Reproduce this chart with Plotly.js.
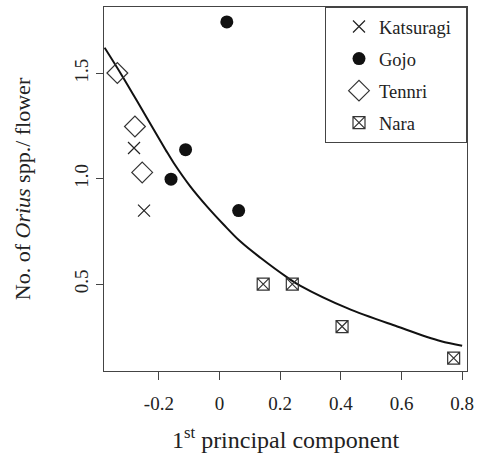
<!DOCTYPE html>
<html>
<head>
<meta charset="utf-8">
<script src="https://cdn.plot.ly/plotly-3.0.1.min.js"></script>
<style>html,body{margin:0;padding:0;background:#fff;}#chart{width:478px;height:458px;}</style>
</head>
<body>
<div id="chart"></div>
<script>
// Data
const katsuragiX = [-0.282, -0.249];
const katsuragiY = [1.146, 0.849];
const gojoX = [0.024, -0.112, -0.160, 0.063];
const gojoY = [1.744, 1.138, 0.998, 0.849];
const tennriX = [-0.337, -0.279, -0.255];
const tennriY = [1.502, 1.248, 1.030];
const naraX = [0.144, 0.240, 0.404, 0.772];
const naraY = [0.500, 0.500, 0.299, 0.149];
const curveX = [-0.379, -0.321, -0.249, -0.178, -0.151, -0.096, -0.041, 0.014, 0.069, 0.135, 0.223, 0.267, 0.421, 0.586, 0.728, 0.800];
const curveY = [1.622, 1.488, 1.312, 1.138, 1.075, 0.963, 0.868, 0.782, 0.702, 0.625, 0.532, 0.492, 0.386, 0.299, 0.230, 0.208];
const xTickVals = [-0.2, 0, 0.2, 0.4, 0.6, 0.8];
const xTickText = ['-0.2', '0', '0.2', '0.4', '0.6', '0.8'];
const yTickVals = [0.5, 1.0, 1.5];
const yTickText = ['0.5', '1.0', '1.5'];

const serif = 'Liberation Serif, Times New Roman, serif';
const pad = '&nbsp;&nbsp;';
const traces = [
  {x: curveX, y: curveY, mode: 'lines', line: {color: '#111', width: 2, shape: 'spline', smoothing: 1}, showlegend: false, hoverinfo: 'skip'},
  {x: katsuragiX, y: katsuragiY, mode: 'markers', name: 'Katsuragi' + pad, legendgroup: 'a',
   marker: {symbol: 'x-thin-open', size: 12, color: '#222', line: {width: 1.2, color: '#222'}}},
  {x: gojoX, y: gojoY, mode: 'markers', name: 'Gojo', legendgroup: 'b',
   marker: {symbol: 'circle', size: 13, color: '#111', line: {width: 0}}},
  {x: tennriX, y: tennriY, mode: 'markers', name: 'Tennri', legendgroup: 'c',
   marker: {symbol: 'diamond-open', size: 16, color: '#333', line: {width: 1.2, color: '#333'}}},
  {x: naraX, y: naraY, mode: 'markers', name: 'Nara', legendgroup: 'd',
   marker: {symbol: 'square-x-open', size: 12, color: '#333', line: {width: 1.2, color: '#333'}}}
];

const layout = {
  width: 478, height: 458,
  margin: {l: 103.5, r: 11.3, t: 7.3, b: 87},
  paper_bgcolor: '#fff', plot_bgcolor: '#fff',
  font: {family: serif, color: '#222', size: 17},
  showlegend: true,
  legend: {x: 1, xanchor: 'right', y: 1, yanchor: 'top', bordercolor: '#444', borderwidth: 1,
           bgcolor: '#fff', font: {family: serif, size: 18.5, color: '#222'}, tracegroupgap: 5,
           itemwidth: 30, indentation: 13},
  xaxis: {range: [-0.381, 0.816], tickvals: xTickVals, ticktext: xTickText, ticks: 'outside', ticklen: 8,
          tickcolor: '#444', showgrid: false, zeroline: false, showline: true, linecolor: '#444', linewidth: 1,
          mirror: true, ticklabelstandoff: 7, tickfont: {family: serif, size: 19, color: '#222'},
          title: {text: '1<sup>st</sup> principal component', font: {family: serif, size: 24, color: '#222'}, standoff: 18}},
  yaxis: {range: [0.088, 1.815], tickvals: yTickVals, ticktext: yTickText, ticks: 'outside', ticklen: 7,
          tickcolor: '#444', showgrid: false, zeroline: false, showline: true, linecolor: '#444', linewidth: 1,
          mirror: true, tickangle: -90, tickfont: {family: serif, size: 19, color: '#222'},
          title: {text: 'No. of <i>Orius</i> spp./ flower', font: {family: serif, size: 22, color: '#222'}, standoff: 34}}
};
Plotly.newPlot('chart', traces, layout, {displayModeBar: false, staticPlot: true});
</script>
</body>
</html>
